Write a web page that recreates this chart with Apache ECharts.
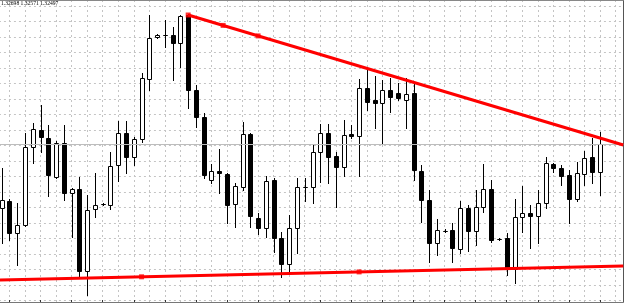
<!DOCTYPE html>
<html>
<head>
<meta charset="utf-8">
<script src="https://cdn.jsdelivr.net/npm/echarts@6/dist/echarts.min.js"></script>
<style>html,body{margin:0;padding:0;background:#fff;}#c{width:625px;height:303px;}</style>
</head>
<body>
<div id="c"></div>
<script>
// Candle values (price), one entry per bar, left to right
const open = [1.3190,1.3197,1.3165,1.3173,1.3251,1.3268,1.3260,1.3221,1.3255,1.3205,
1.3209,1.3127,1.3189,1.3194,1.3193,1.3233,1.3265,1.3241,1.3259,1.3319,
1.3361,1.3363,1.3363,1.3355,1.3383,1.3308,1.3281,1.3218,1.3227,1.3224,
1.3194,1.3211,1.3264,1.3180,1.3170,1.3218,1.3160,1.3134,1.3170,1.3211,
1.3211,1.3246,1.3265,1.3242,1.3231,1.3264,1.3262,1.3310,1.3298,1.3295,
1.3308,1.3305,1.3298,1.3305,1.3227,1.3198,1.3155,1.3167,1.3168,1.3149,
1.3190,1.3167,1.3191,1.3209,1.3159,1.3160,1.3129,1.3181,1.3185,1.3182,
1.3195,1.3234,1.3230,1.3223,1.3199,1.3224,1.3241,1.3226];
const close = [1.3198,1.3165,1.3173,1.3251,1.3269,1.3261,1.3223,1.3255,1.3205,1.3209,
1.3127,1.3188,1.3193,1.3194,1.3232,1.3265,1.3241,1.3259,1.3320,1.3360,
1.3363,1.3363,1.3355,1.3382,1.3308,1.3281,1.3223,1.3227,1.3225,1.3193,
1.3212,1.3264,1.3182,1.3170,1.3217,1.3160,1.3134,1.3170,1.3211,1.3211,
1.3246,1.3265,1.3241,1.3231,1.3263,1.3262,1.3310,1.3296,1.3295,1.3308,
1.3301,1.3300,1.3304,1.3228,1.3198,1.3155,1.3168,1.3167,1.3150,1.3190,
1.3167,1.3191,1.3209,1.3158,1.3159,1.3130,1.3181,1.3185,1.3182,1.3195,
1.3235,1.3230,1.3222,1.3199,1.3225,1.3240,1.3226,1.3254];
const low = [1.3155,1.3158,1.3133,1.3172,1.3235,1.3246,1.3202,1.3220,1.3198,1.3161,
1.3122,1.3103,1.3181,1.3193,1.3189,1.3217,1.3225,1.3233,1.3256,1.3308,
1.3360,1.3351,1.3318,1.3331,1.3290,1.3271,1.3220,1.3215,1.3205,1.3175,
1.3171,1.3208,1.3171,1.3164,1.3161,1.3146,1.3121,1.3124,1.3145,1.3197,
1.3195,1.3216,1.3215,1.3191,1.3222,1.3260,1.3222,1.3288,1.3270,1.3255,
1.3286,1.3298,1.3270,1.3218,1.3176,1.3136,1.3143,1.3166,1.3136,1.3145,
1.3147,1.3153,1.3186,1.3156,1.3158,1.3123,1.3115,1.3166,1.3150,1.3155,
1.3190,1.3226,1.3213,1.3175,1.3197,1.3213,1.3215,1.3203];
const high = [1.3230,1.3199,1.3195,1.3265,1.3275,1.3293,1.3273,1.3257,1.3273,1.3210,
1.3221,1.3203,1.3225,1.3195,1.3246,1.3277,1.3277,1.3261,1.3325,1.3383,
1.3364,1.3378,1.3371,1.3383,1.3384,1.3313,1.3285,1.3234,1.3249,1.3225,
1.3215,1.3276,1.3265,1.3185,1.3222,1.3220,1.3166,1.3183,1.3220,1.3220,
1.3253,1.3274,1.3274,1.3246,1.3278,1.3273,1.3319,1.3328,1.3322,1.3318,
1.3320,1.3315,1.3320,1.3316,1.3233,1.3208,1.3179,1.3169,1.3175,1.3197,
1.3193,1.3208,1.3234,1.3218,1.3160,1.3165,1.3199,1.3212,1.3193,1.3208,
1.3241,1.3235,1.3233,1.3228,1.3236,1.3247,1.3260,1.3266];

// bar slots: one empty slot on the left, 78 bars, then empty slots up to the right border
const categories = Array.from({length: 82}, (_, k) => 'b' + k);

// trend lines: [bar slot, price]
const upperTrend = [[25, 1.3383], [81, 1.3253]];
const upperAnchors = [[25, 1.3383], [29.5, 1.33726], [34, 1.33621]];
const lowerTrend = [[0, 1.31179], [81, 1.3132]];
const lowerAnchors = [[19, 1.31212], [47, 1.31261]];

const headerText = '1.32698 1.32571 1.32497';

// [slot, open, close, low, high]
const candleData = open.map((o, k) => [k + 1, o, close[k], low[k], high[k]]);

function renderCandle(params, api) {
  const x = api.value(0), o = api.value(1), c = api.value(2), l = api.value(3), h = api.value(4);
  const pO = api.coord([x, o]), pC = api.coord([x, c]), pL = api.coord([x, l]), pH = api.coord([x, h]);
  const cx = Math.round(pO[0]) + 0.5;
  const top = Math.round(Math.min(pO[1], pC[1])) + 0.5;
  const bot = Math.round(Math.max(pO[1], pC[1])) + 0.5;
  const up = c >= o;
  return {
    type: 'group',
    children: [
      {type: 'line', shape: {x1: cx, y1: Math.round(pH[1]), x2: cx, y2: Math.round(pL[1]) + 1},
       style: {stroke: '#000', lineWidth: 1}},
      {type: 'rect', shape: {x: cx - 2, y: top, width: 4, height: Math.max(bot - top, 0)},
       style: {fill: up ? '#fff' : '#000', stroke: '#000', lineWidth: 1}}
    ]
  };
}

const chart = echarts.init(document.getElementById('c'), null, {renderer: 'canvas'});
const gridDash = {color: '#c4c4c4', type: [2, 3], width: 1};
chart.setOption({
  animation: false,
  backgroundColor: '#ffffff',
  title: {
    text: headerText, left: 1, top: 1, padding: 0,
    textStyle: {fontSize: 5.6, fontFamily: 'Liberation Sans Narrow', fontWeight: 'normal', color: '#000'}
  },
  grid: [
    {left: -6.07, top: 6, width: 629.37, height: 294.5, outerBoundsMode: 'none', containLabel: false},
    {left: -6.07, top: 0, width: 629.37, height: 302, outerBoundsMode: 'none', containLabel: false}
  ],
  xAxis: [
    {gridIndex: 0, type: 'category', data: categories, boundaryGap: false,
     axisLine: {show: false}, axisTick: {show: false}, axisLabel: {show: false}, splitLine: {show: false}},
    {gridIndex: 0, type: 'value', min: 0, max: 81, show: false},
    {gridIndex: 1, type: 'category', data: categories, boundaryGap: false, position: 'bottom',
     axisLine: {show: true, lineStyle: {color: '#777', width: 1}},
     axisTick: {show: true, inside: true, length: 2, interval: (i) => i % 4 === 2, lineStyle: {color: '#333'}},
     axisLabel: {show: false},
     splitLine: {show: true, interval: 1, lineStyle: gridDash}},
    {gridIndex: 1, type: 'category', data: categories, boundaryGap: false, position: 'top',
     axisLine: {show: true, lineStyle: {color: '#888', width: 1}},
     axisTick: {show: false}, axisLabel: {show: false}, splitLine: {show: false}}
  ],
  yAxis: [
    {gridIndex: 0, type: 'value', min: 1.30975, max: 1.3392, interval: 0.00155,
     axisLine: {show: false}, axisTick: {show: false}, axisLabel: {show: false},
     splitLine: {show: true, lineStyle: gridDash}},
    {gridIndex: 1, type: 'value', min: 0, max: 1, position: 'right',
     axisLine: {show: true, lineStyle: {color: '#555', width: 1}},
     axisTick: {show: false}, axisLabel: {show: false}, splitLine: {show: false}}
  ],
  series: [
    {type: 'custom', name: 'bars', xAxisIndex: 0, yAxisIndex: 0, data: candleData,
     renderItem: renderCandle, encode: {x: 0, y: [1, 2, 3, 4]}, clip: false, silent: true, z: 3},
    {type: 'line', xAxisIndex: 1, yAxisIndex: 0, data: upperTrend, symbol: 'none', silent: true,
     lineStyle: {color: '#ff0000', width: 3}, z: 5,
     markLine: {silent: true, symbol: ['none', 'none'], label: {show: false}, precision: 5,
       lineStyle: {color: '#bdbdbd', type: 'solid', width: 1}, data: [{yAxis: close[close.length - 1]}]}},
    {type: 'line', xAxisIndex: 1, yAxisIndex: 0, data: lowerTrend, symbol: 'none', silent: true,
     lineStyle: {color: '#ff0000', width: 3}, z: 5},
    {type: 'scatter', xAxisIndex: 1, yAxisIndex: 0, data: upperAnchors.concat(lowerAnchors), silent: true,
     symbol: 'rect', symbolSize: 5, itemStyle: {color: '#ff0000'}, z: 6}
  ]
});
</script>
</body>
</html>
